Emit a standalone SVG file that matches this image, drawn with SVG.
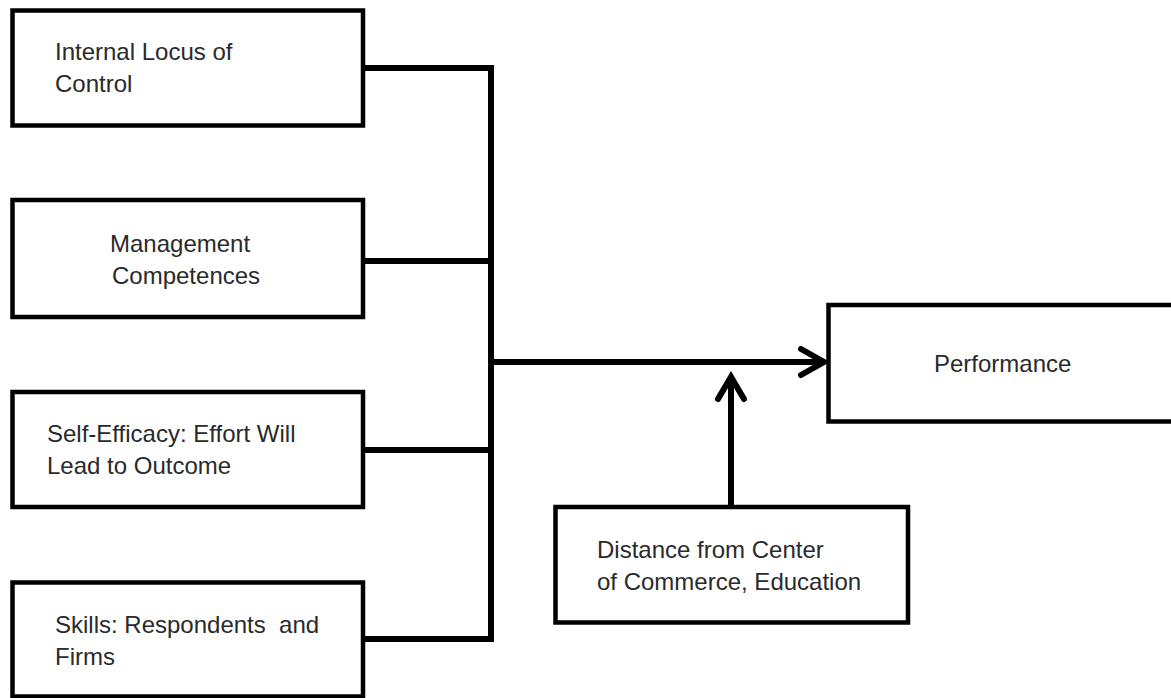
<svg xmlns="http://www.w3.org/2000/svg" width="1171" height="698" viewBox="0 0 1171 698">
<style>
.box{fill:#fff;stroke:#000;stroke-width:4.5}
.lbl{font-family:"Liberation Sans",Arial,sans-serif;font-size:24px;fill:#2a2a2a;white-space:pre}
.con{fill:none;stroke:#000;stroke-width:6}
.head{fill:none;stroke:#000;stroke-width:6;stroke-linecap:round;stroke-linejoin:miter}
</style>
<rect width="1171" height="698" fill="#fff"/>
<g id="connectors">
<path class="con" d="M363 68H491V639H363"/>
<path class="con" d="M363 261H491"/>
<path class="con" d="M363 450H491"/>
<path class="con" d="M491 362H824"/>
<path class="head" d="M801 349L824 362L801 375"/>
<path class="con" d="M731 507V377"/>
<path class="head" d="M718 399L731 377L744 399"/>
</g>
<g id="n1">
<rect class="box" x="12.5" y="10.5" width="350.5" height="115"/>
<text class="lbl" x="55" y="60">Internal Locus of</text>
<text class="lbl" x="55" y="92">Control</text>
</g>
<g id="n2">
<rect class="box" x="12.5" y="200" width="350.5" height="117"/>
<text class="lbl" x="110" y="252">Management</text>
<text class="lbl" x="112" y="284">Competences</text>
</g>
<g id="n3">
<rect class="box" x="12.5" y="392" width="350.5" height="115"/>
<text class="lbl" x="47" y="442">Self-Efficacy: Effort Will</text>
<text class="lbl" x="47" y="474">Lead to Outcome</text>
</g>
<g id="n4">
<rect class="box" x="12.5" y="582.5" width="350.5" height="114"/>
<text class="lbl" x="55" y="633" xml:space="preserve">Skills: Respondents  and</text>
<text class="lbl" x="55" y="665">Firms</text>
</g>
<g id="n5">
<rect class="box" x="828.5" y="305" width="350" height="116.5"/>
<text class="lbl" x="934" y="372">Performance</text>
</g>
<g id="n6">
<rect class="box" x="555.5" y="507" width="352.5" height="115.5"/>
<text class="lbl" x="597" y="558">Distance from Center</text>
<text class="lbl" x="597" y="590">of Commerce, Education</text>
</g>
</svg>
